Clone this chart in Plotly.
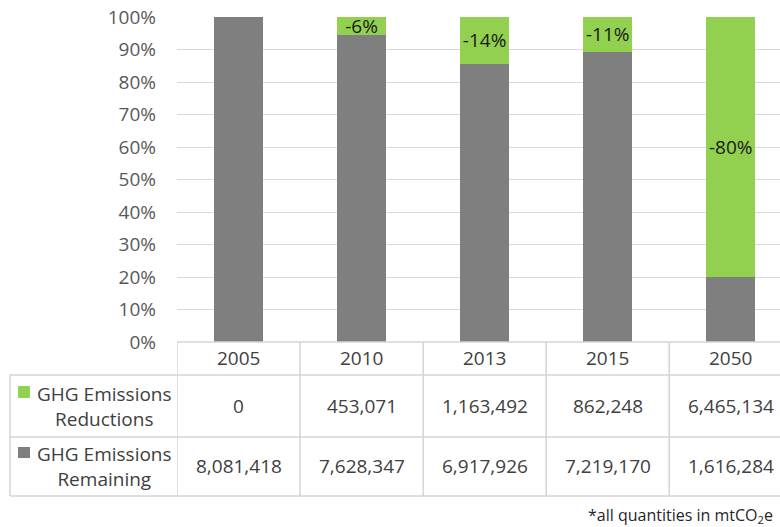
import plotly.graph_objects as go

years = ["2005", "2010", "2013", "2015", "2050"]
reductions = [0, 453071, 1163492, 862248, 6465134]
remaining = [8081418, 7628347, 6917926, 7219170, 1616284]
tick_vals = [0, 10, 20, 30, 40, 50, 60, 70, 80, 90, 100]
tick_text = [f"{v}%" for v in tick_vals]

GREEN = "#92d050"
GREY = "#7f7f7f"
FONT = "Open Sans"
FS = 19

base = remaining[0] + reductions[0]
labels = ["" if r == 0 else f"-{round(r / base * 100)}%" for r in reductions]

fig = go.Figure()
fig.add_trace(go.Bar(x=years, y=remaining, name="GHG Emissions Remaining",
                     marker=dict(color=GREY, line=dict(width=0)), hoverinfo="skip"))
fig.add_trace(go.Bar(x=years, y=reductions, name="GHG Emissions Reductions",
                     marker=dict(color=GREEN, line=dict(width=0)),
                     text=labels, textposition="inside", insidetextanchor="middle",
                     constraintext="none", textangle=0,
                     textfont=dict(family=FONT, size=FS, color="#1a1a1a"), hoverinfo="skip"))

W, H = 780, 527
L, R, T, B = 177, 0, 17, 185
PH = H - T - B
PW = W - L - R

def py(p):
    return (H - B - p) / PH

def px(p):
    return (p - L) / PW

fig.update_layout(
    width=W, height=H, margin=dict(l=L, r=R, t=T, b=B),
    barmode="stack", barnorm="percent", bargap=0.6,
    showlegend=False, plot_bgcolor="white", paper_bgcolor="white",
    font=dict(family=FONT, size=FS, color="#595959"),
    xaxis=dict(range=[-0.5, 4.4], showticklabels=False, showgrid=False,
               zeroline=False, showline=False, ticks=""),
    yaxis=dict(range=[0, 100], tickmode="array", tickvals=tick_vals, ticktext=tick_text,
               showgrid=True, gridcolor="#d9d9d9", gridwidth=1,
               zeroline=False, showline=False, ticklabelstandoff=20,
               tickfont=dict(family=FONT, size=FS, color="#595959")),
)

LINE = dict(color="#d4d4d4", width=1.5)
for yy in [375, 437, 496]:
    fig.add_shape(type="line", xref="paper", yref="paper", x0=px(10), x1=1,
                  y0=py(yy), y1=py(yy), line=LINE)
fig.add_shape(type="line", xref="paper", yref="paper", x0=0, x1=1,
              y0=0, y1=0, line=LINE)
for b in [-0.5, 0.5, 1.5, 2.5, 3.5]:
    fig.add_shape(type="line", xref="x", yref="paper", x0=b, x1=b,
                  y0=0, y1=py(496), line=LINE)
fig.add_shape(type="line", xref="paper", yref="paper", x0=px(10), x1=px(10),
              y0=py(375), y1=py(496), line=LINE)

TXT = "#404040"

def ann(x, y, text, xref="paper", **kw):
    fig.add_annotation(x=x, y=y, xref=xref, yref="paper", text=text, showarrow=False,
                       xanchor=kw.pop("xanchor", "center"), yanchor="middle",
                       font=kw.pop("font", dict(family=FONT, size=FS, color=TXT)), **kw)

for i, yv in enumerate(years):
    ann(i, py(358), yv, xref="x")
    ann(i, py(406), f"{reductions[i]:,}", xref="x")
    ann(i, py(466), f"{remaining[i]:,}", xref="x")

ann(px(104), py(406), "GHG Emissions<br>Reductions", align="center")
ann(px(104), py(466), "GHG Emissions<br>Remaining", align="center")
fig.add_shape(type="rect", xref="paper", yref="paper", x0=px(18), x1=px(30),
              y0=py(398), y1=py(386), fillcolor=GREEN, line=dict(width=0))
fig.add_shape(type="rect", xref="paper", yref="paper", x0=px(18), x1=px(30),
              y0=py(458), y1=py(447), fillcolor=GREY, line=dict(width=0))

ann(px(775), py(515), "*all quantities in mtCO<sub>2</sub>e", xanchor="right",
    font=dict(family=FONT, size=16, color="#262626"))

fig.write_html("out.html")
